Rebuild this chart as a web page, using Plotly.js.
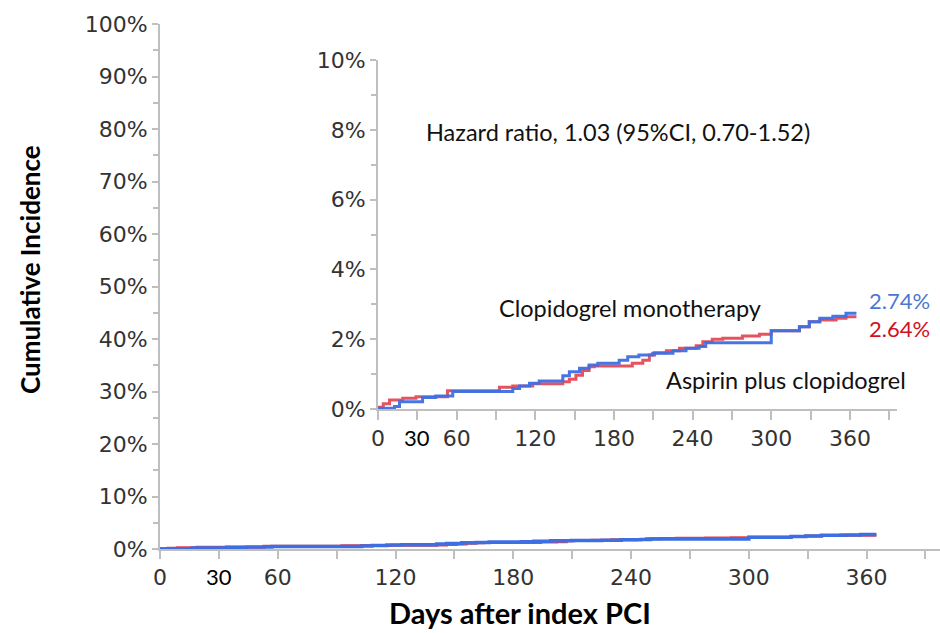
<!DOCTYPE html>
<html>
<head>
<meta charset="utf-8">
<script src="https://cdn.plot.ly/plotly-3.0.1.min.js"></script>
<style>html,body{margin:0;padding:0;background:#fff;}#chart{width:940px;height:633px;}</style>
</head>
<body>
<div id="chart"></div>
<script>
// Clopidogrel monotherapy (blue) — step points: day, cumulative incidence (%)
const monoDays = [0, 12.6, 16.4, 34, 44, 57, 102.8, 108, 115.6, 123, 141, 146, 153.7, 161, 167.7, 184, 190.5, 199, 209.6, 225, 235, 245, 250, 300, 321.5, 329, 337, 347, 357, 365];
const monoPct  = [0.02, 0.07, 0.21, 0.33, 0.37, 0.50, 0.59, 0.66, 0.74, 0.80, 0.95, 1.07, 1.17, 1.26, 1.31, 1.40, 1.50, 1.55, 1.60, 1.67, 1.74, 1.79, 1.90, 2.24, 2.36, 2.50, 2.60, 2.66, 2.74, 2.74];
// Aspirin plus clopidogrel (red)
const dualDays = [0, 4, 8.8, 18.9, 29, 53, 92.7, 102.8, 118, 141, 146, 151, 156, 161, 165, 194, 202, 207, 211, 220, 230, 242.7, 247.8, 255, 263, 278, 291, 300, 321.5, 329, 337, 349.5, 357, 365];
const dualPct  = [0.05, 0.15, 0.26, 0.31, 0.35, 0.52, 0.62, 0.66, 0.72, 0.78, 0.85, 0.97, 1.10, 1.21, 1.23, 1.31, 1.40, 1.55, 1.61, 1.67, 1.74, 1.81, 1.93, 2.00, 2.03, 2.09, 2.14, 2.24, 2.36, 2.50, 2.55, 2.60, 2.64, 2.64];

const xTickVals = [0, 30, 60, 90, 120, 150, 180, 210, 240, 270, 300, 330, 360, 390];
const xTickText = ['0', '', '60', '', '120', '', '180', '', '240', '', '300', '', '360', ''];
const mainYTicks = [0, 10, 20, 30, 40, 50, 60, 70, 80, 90, 100];
const mainYText = ['0%', '10%', '20%', '30%', '40%', '50%', '60%', '70%', '80%', '90%', '100%'];
const insetYTicks = [0, 2, 4, 6, 8, 10];
const insetYText = ['0%', '2%', '4%', '6%', '8%', '10%'];

const blue = '#3d6fe3';
const red = '#e2404c';
const axisGray = '#bfbfbf';
const tickFontColor = '#333333';

// pixel -> paper helpers (plot area: x 160..940, y 24..549)
const PX = x => (x - 160) / 780;
const PY = y => (549 - y) / 525;

const traces = [
  {x: dualDays, y: dualPct, xaxis: 'x', yaxis: 'y', mode: 'lines', line: {shape: 'hv', color: red, width: 3}, hoverinfo: 'skip', name: 'Aspirin plus clopidogrel'},
  {x: monoDays, y: monoPct, xaxis: 'x', yaxis: 'y', mode: 'lines', line: {shape: 'hv', color: blue, width: 3.5}, hoverinfo: 'skip', name: 'Clopidogrel monotherapy'},
  {x: dualDays, y: dualPct, xaxis: 'x2', yaxis: 'y2', mode: 'lines', line: {shape: 'hv', color: red, width: 3}, opacity: 0.9, hoverinfo: 'skip', name: 'Aspirin plus clopidogrel'},
  {x: monoDays, y: monoPct, xaxis: 'x2', yaxis: 'y2', mode: 'lines', line: {shape: 'hv', color: blue, width: 3}, opacity: 0.95, hoverinfo: 'skip', name: 'Clopidogrel monotherapy'}
];

const tickFont = {family: 'DejaVu Sans', size: 22, color: tickFontColor};
const noteFont = {family: 'Lato', size: 23.5, color: '#111'};

const layout = {
  width: 940, height: 633,
  margin: {l: 160, r: 0, t: 24, b: 84},
  paper_bgcolor: '#fff', plot_bgcolor: 'rgba(0,0,0,0)',
  showlegend: false,
  xaxis: {
    domain: [0, 1], range: [0, 397.4], anchor: 'y',
    tickmode: 'array', tickvals: xTickVals, ticktext: xTickText,
    ticks: 'outside', ticklen: 8, tickwidth: 2, tickcolor: axisGray,
    showline: true, linecolor: axisGray, linewidth: 2,
    showgrid: false, zeroline: false, tickfont: tickFont
  },
  yaxis: {
    domain: [0, 1], range: [0, 100], anchor: 'x',
    tickmode: 'array', tickvals: mainYTicks, ticktext: mainYText,
    ticks: 'outside', ticklen: 6, tickwidth: 2, tickcolor: axisGray,
    minor: {dtick: 5, ticks: 'outside', ticklen: 5, tickwidth: 2, tickcolor: axisGray, showgrid: false},
    showline: true, linecolor: axisGray, linewidth: 2,
    showgrid: false, zeroline: false, tickfont: tickFont
  },
  xaxis2: {
    domain: [PX(378), PX(896.7)], range: [0, 395.7], anchor: 'y2',
    tickmode: 'array', tickvals: xTickVals, ticktext: xTickText,
    ticks: 'outside', ticklen: 9, tickwidth: 2, tickcolor: axisGray,
    showline: true, linecolor: axisGray, linewidth: 2,
    showgrid: false, zeroline: false, tickfont: tickFont
  },
  yaxis2: {
    domain: [PY(409), PY(60)], range: [0, 10], anchor: 'x2',
    tickmode: 'array', tickvals: insetYTicks, ticktext: insetYText,
    ticks: 'outside', ticklen: 6, tickwidth: 2, tickcolor: axisGray,
    minor: {dtick: 1, ticks: 'outside', ticklen: 5, tickwidth: 2, tickcolor: axisGray, showgrid: false},
    showline: true, linecolor: axisGray, linewidth: 2,
    showgrid: false, zeroline: false, tickfont: tickFont
  },
  annotations: [
    {xref: 'paper', yref: 'paper', x: PX(30), y: PY(270), xanchor: 'center', yanchor: 'middle', textangle: -90, text: 'Cumulative Incidence', showarrow: false, font: {family: 'Lato', size: 26, color: '#000', weight: 'bold'}},
    {xref: 'paper', yref: 'paper', x: PX(520), y: PY(612), xanchor: 'center', yanchor: 'middle', text: 'Days after index PCI', showarrow: false, font: {family: 'Lato', size: 29, color: '#000', weight: 'bold'}},
    {xref: 'x', yref: 'paper', x: 30, y: PY(576), xanchor: 'center', yanchor: 'middle', text: '30', showarrow: false, font: {family: 'Lato', size: 22, color: '#000'}},
    {xref: 'x2', yref: 'paper', x: 30, y: PY(437), xanchor: 'center', yanchor: 'middle', text: '30', showarrow: false, font: {family: 'Lato', size: 22, color: '#000'}},
    {xref: 'paper', yref: 'paper', x: PX(424), y: PY(132), xanchor: 'left', yanchor: 'middle', text: 'Hazard ratio, 1.03 (95%CI, 0.70-1.52)', showarrow: false, font: noteFont},
    {xref: 'paper', yref: 'paper', x: PX(497), y: PY(308), xanchor: 'left', yanchor: 'middle', text: 'Clopidogrel monotherapy', showarrow: false, font: noteFont},
    {xref: 'paper', yref: 'paper', x: PX(664), y: PY(380), xanchor: 'left', yanchor: 'middle', text: 'Aspirin plus clopidogrel', showarrow: false, font: noteFont},
    {xref: 'paper', yref: 'paper', x: PX(867), y: PY(300), xanchor: 'left', yanchor: 'middle', text: '2.74%', showarrow: false, font: {family: 'Lato', size: 22, color: '#4a78d0'}},
    {xref: 'paper', yref: 'paper', x: PX(867), y: PY(328), xanchor: 'left', yanchor: 'middle', text: '2.64%', showarrow: false, font: {family: 'Lato', size: 22, color: '#d01020'}}
  ]
};

Plotly.newPlot('chart', traces, layout, {staticPlot: true, displayModeBar: false});
</script>
</body>
</html>
